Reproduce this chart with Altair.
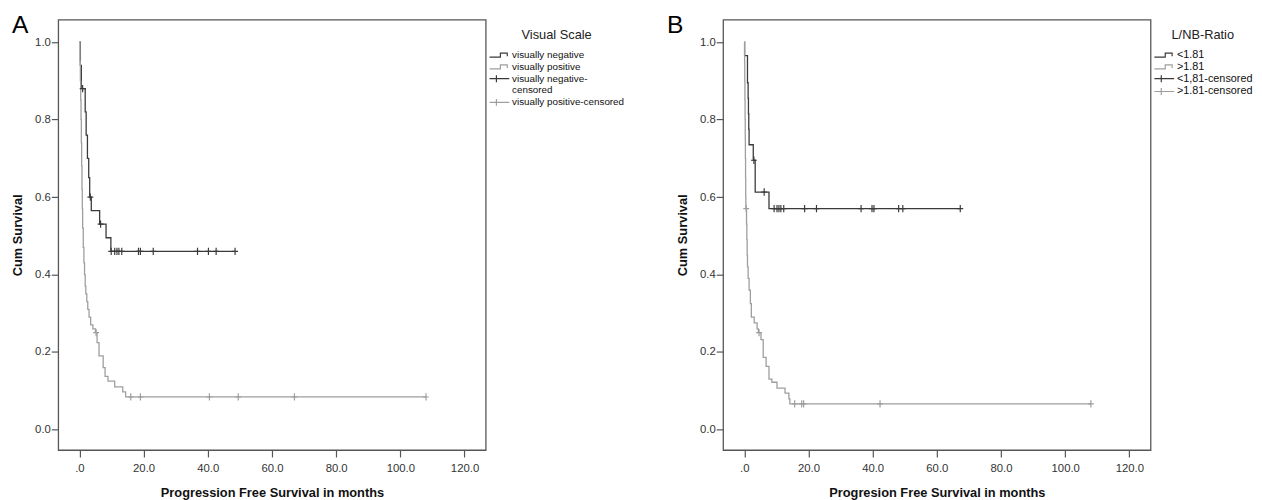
import altair as alt
import pandas as pd

DARK = "#3a3a3a"
LIGHT = "#9e9e9e"
FONT = "Liberation Sans"

# ---------------- Panel A : Visual Scale ----------------
a_names = ["visually negative", "visually positive",
           "visually negative-censored", "visually positive-censored"]
a_neg_t = [0, 0.3, 0.6, 1.8, 2.1, 2.5, 2.9, 3.2, 3.7, 6.3, 8.3, 9.8, 48.5]
a_neg_s = [1.0, 0.94, 0.88, 0.82, 0.76, 0.70, 0.65, 0.60, 0.565, 0.53, 0.495, 0.46, 0.46]
a_pos_t = [0, 0.2, 0.3, 0.4, 0.5, 0.6, 0.7, 0.8, 0.9, 1.0, 1.2, 1.4, 1.6, 1.8, 2.0, 2.3,
           2.6, 3.0, 3.5, 4.2, 5.0, 5.5, 6.1, 7.4, 8.0, 8.9, 11.0, 13.5, 14.4, 108.0]
a_pos_s = [1.0, 0.95, 0.90, 0.85, 0.80, 0.74, 0.68, 0.62, 0.57, 0.52, 0.47, 0.43, 0.40, 0.37,
           0.35, 0.33, 0.31, 0.29, 0.27, 0.26, 0.25, 0.224, 0.19, 0.16, 0.137, 0.125, 0.11,
           0.097, 0.084, 0.084]
a_negc_t = [1.0, 3.4, 6.6, 9.9, 11.0, 11.7, 12.3, 13.2, 18.4, 19.0, 23.0, 36.8, 40.2, 42.6, 48.5]
a_negc_s = [0.88, 0.60, 0.53, 0.46, 0.46, 0.46, 0.46, 0.46, 0.46, 0.46, 0.46, 0.46, 0.46, 0.46, 0.46]
a_posc_t = [5.2, 16.0, 19.0, 40.5, 49.5, 67.0, 108.0]
a_posc_s = [0.25, 0.084, 0.084, 0.084, 0.084, 0.084, 0.084]

# ---------------- Panel B : L/NB-Ratio ----------------
b_names = ["<1.81", ">1.81", "<1,81-censored", ">1.81-censored"]
b_neg_t = [0, 0.1, 1.0, 1.2, 1.3, 1.4, 1.5, 2.8, 3.4, 7.7, 67.3]
b_neg_s = [1.0, 0.965, 0.895, 0.855, 0.815, 0.775, 0.735, 0.695, 0.613, 0.57, 0.57]
b_pos_t = [0, 0.1, 0.15, 0.2, 0.25, 0.3, 0.35, 0.4, 0.45, 0.5, 0.7, 0.8, 0.9, 1.0, 1.2, 1.5,
           1.9, 2.2, 3.1, 4.0, 4.4, 5.2, 5.9, 6.8, 7.7, 8.6, 10.2, 12.7, 13.9, 14.2, 108.0]
b_pos_s = [1.0, 0.95, 0.90, 0.85, 0.80, 0.75, 0.70, 0.65, 0.60, 0.57, 0.53, 0.49, 0.45, 0.42,
           0.39, 0.36, 0.325, 0.29, 0.275, 0.26, 0.25, 0.232, 0.186, 0.163, 0.13, 0.122, 0.107,
           0.094, 0.079, 0.066, 0.066]
b_negc_t = [3.0, 6.2, 9.3, 10.2, 10.8, 11.4, 12.3, 18.8, 22.5, 36.4, 39.8, 40.4, 48.1, 49.4, 67.3]
b_negc_s = [0.695, 0.613, 0.57, 0.57, 0.57, 0.57, 0.57, 0.57, 0.57, 0.57, 0.57, 0.57, 0.57, 0.57, 0.57]
b_posc_t = [0.6, 4.6, 15.7, 17.9, 18.5, 42.3, 108.0]
b_posc_s = [0.57, 0.25, 0.066, 0.066, 0.066, 0.066, 0.066]

x_ticks = [0, 20, 40, 60, 80, 100, 120]
y_ticks = [0.0, 0.2, 0.4, 0.6, 0.8, 1.0]

STEP_PATH = "M-1,0.33L0.8,0.33L0.8,-0.33L1.94,-0.33L1.94,0.2"
PLUS_PATH = "M-1,0L2.27,0M0.14,-0.57L0.14,0.57"
SYMBOL_EXPR = "indexof(datum.value, 'censored') >= 0 ? '%s' : '%s'" % (PLUS_PATH, STEP_PATH)


def panel(letter, letter_dx, legend_title, names, label_expr, label_size, x_title,
          neg_t, neg_s, pos_t, pos_s, negc_t, negc_s, posc_t, posc_s):
    lines = pd.concat([
        pd.DataFrame({"t": neg_t, "s": neg_s, "series": names[0]}),
        pd.DataFrame({"t": pos_t, "s": pos_s, "series": names[1]}),
    ])
    cens = pd.concat([
        pd.DataFrame({"t": negc_t, "s": negc_s, "series": names[2]}),
        pd.DataFrame({"t": posc_t, "s": posc_s, "series": names[3]}),
    ])
    x = alt.X("t:Q", title=x_title,
              scale=alt.Scale(domain=[-6.6, 126.6], nice=False, zero=False),
              axis=alt.Axis(values=x_ticks,
                            labelExpr="datum.value == 0 ? '.0' : format(datum.value, '.1f')"))
    y = alt.Y("s:Q", title="Cum Survival",
              scale=alt.Scale(domain=[-0.053, 1.058], nice=False, zero=False),
              axis=alt.Axis(values=y_ticks, format=".1f"))
    color = alt.Color(
        "series:N",
        scale=alt.Scale(domain=names, range=[DARK, LIGHT, DARK, LIGHT]),
        legend=alt.Legend(
            title=legend_title, labelExpr=label_expr, labelFontSize=label_size,
            symbolType=alt.ExprRef(SYMBOL_EXPR),
            orient="none", legendX=437, legendY=10,
        ),
    )
    line_layer = alt.Chart(lines).mark_line(interpolate="step-after", strokeWidth=1.3).encode(
        x=x, y=y, color=color)
    point_layer = alt.Chart(cens).mark_point(
        shape="M0,-1L0,1M-0.8,0L0.8,0", size=55, filled=False, strokeWidth=1.2, opacity=1
    ).encode(x=x, y=y, color=color)
    return alt.layer(line_layer, point_layer).properties(
        width=434, height=437,
        title=alt.TitleParams(letter, anchor="start", frame="bounds", fontSize=25,
                              fontWeight="normal", font=FONT, color="#000",
                              baseline="top", dy=23, dx=letter_dx),
    )


chart_a = panel("A", 0, "Visual Scale", a_names,
                "datum.label == 'visually negative-censored' ? ['visually negative-', 'censored'] : datum.label",
                10, "Progression Free Survival in months",
                a_neg_t, a_neg_s, a_pos_t, a_pos_s, a_negc_t, a_negc_s, a_posc_t, a_posc_s)
chart_b = panel("B", -10, "L/NB-Ratio", b_names, "datum.label", 11,
                "Progresion Free Survival in months",
                b_neg_t, b_neg_s, b_pos_t, b_pos_s, b_negc_t, b_negc_s, b_posc_t, b_posc_s)

chart = alt.hconcat(chart_a, chart_b, spacing=41).resolve_scale(
    color="independent"
).resolve_legend(color="independent").properties(
    padding={"left": 3, "top": 1, "right": 0, "bottom": 0}
).configure(font=FONT).configure_view(
    stroke="#555555", strokeWidth=1.3
).configure_axis(
    grid=False, domain=False, tickColor="#555555", tickSize=7, tickWidth=1.2,
    labelFont=FONT, labelFontSize=11.5, labelColor="#333333",
    titleFont=FONT, titleFontSize=13, titleFontWeight="bold", titleColor="#111111",
).configure_axisY(titlePadding=10, labelPadding=1).configure_axisX(
    titlePadding=13, labelPadding=6
).configure_legend(
    titleFont=FONT, titleFontSize=13, titleFontWeight="normal",
    titleColor="#222222", titleAnchor="middle", titlePadding=6, labelFont=FONT,
    labelColor="#111111", symbolSize=150, symbolStrokeWidth=1.2, rowPadding=0,
    labelOffset=9.75, padding=0,
)

chart.save("out.html", embed_options={"renderer": "svg", "actions": False})
